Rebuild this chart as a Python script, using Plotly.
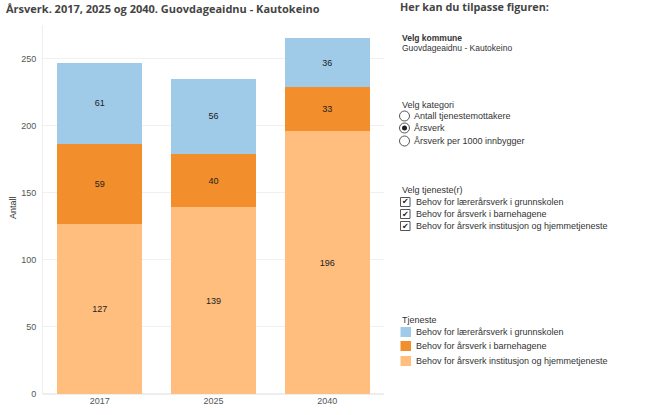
import plotly.graph_objects as go

years = ["2017", "2025", "2040"]
series_names = [
    "Behov for årsverk institusjon og hjemmetjeneste",
    "Behov for årsverk i barnehagene",
    "Behov for lærerårsverk i grunnskolen",
]
series_values = [
    [127, 139, 196],
    [59, 40, 33],
    [61, 56, 36],
]
series_colors = ["#FFBE7D", "#F28E2B", "#A0CBE8"]
y_ticks = [0, 50, 100, 150, 200, 250]

W, H = 657, 415
L, R, T, B = 43, 384, 25, 394

def px(x):
    return (x - L) / (R - L)

def py(y):
    return (B - y) / (B - T)

fig = go.Figure()
for name, vals, col in zip(series_names, series_values, series_colors):
    fig.add_trace(go.Bar(
        x=years, y=vals, name=name, marker_color=col, marker_line_width=0,
        text=[str(v) for v in vals], textposition="inside", insidetextanchor="middle",
        textfont=dict(family="Liberation Sans", size=9, color="#222222"),
        showlegend=False, hoverinfo="x+y+name",
    ))

TEXT_FONT = "Liberation Sans"
ann = []
shapes = []

def text(x, y, s, size=9, color="#333333", bold=False, family=TEXT_FONT):
    ann.append(dict(
        x=px(x), y=py(y), xref="paper", yref="paper", text=(f"<b>{s}</b>" if bold else s),
        showarrow=False, xanchor="left", yanchor="middle",
        font=dict(family=family, size=size, color=color),
    ))

# Title
text(4, 9, "Årsverk. 2017, 2025 og 2040. Guovdageaidnu - Kautokeino", size=11, color="#444444", bold=True, family="Open Sans")
# Right panel
text(398, 7, "Her kan du tilpasse figuren:", size=10.8, color="#444444", bold=True, family="Open Sans")
text(400, 38, "Velg kommune", size=8.5, color="#333333", bold=True)
text(400, 48, "Guovdageaidnu - Kautokeino", size=8.5, color="#333333")

text(400, 105, "Velg kategori", size=9)
radio_opts = ["Antall tjenestemottakere", "Årsverk", "Årsverk per 1000 innbygger"]
radio_y = [116, 128, 141]
for i, (opt, yy) in enumerate(zip(radio_opts, radio_y)):
    shapes.append(dict(type="circle", xref="paper", yref="paper",
                       x0=px(399.5), x1=px(409.5), y0=py(yy + 5), y1=py(yy - 5),
                       line=dict(color="#555555", width=1), fillcolor="white"))
    if opt == "Årsverk":
        shapes.append(dict(type="circle", xref="paper", yref="paper",
                           x0=px(402), x1=px(407), y0=py(yy + 2.5), y1=py(yy - 2.5),
                           line=dict(width=0), fillcolor="#222222"))
    text(412, yy, opt, size=9)

text(400, 190, "Velg tjeneste(r)", size=9)
check_opts = ["Behov for lærerårsverk i grunnskolen", "Behov for årsverk i barnehagene",
              "Behov for årsverk institusjon og hjemmetjeneste"]
check_y = [202, 214, 226]
for opt, yy in zip(check_opts, check_y):
    shapes.append(dict(type="rect", xref="paper", yref="paper",
                       x0=px(400.5), x1=px(410), y0=py(yy + 4.5), y1=py(yy - 4.5),
                       line=dict(color="#555555", width=1), fillcolor="white"))
    ann.append(dict(x=px(405.3), y=py(yy), xref="paper", yref="paper", text="✔",
                    showarrow=False, xanchor="center", yanchor="middle",
                    font=dict(family="DejaVu Sans", size=8, color="#222222")))
    text(414, yy, opt, size=9)

# Legend (drawn)
text(400, 320, "Tjeneste", size=9)
leg_y = [332, 346, 361]
for name, col, yy in zip(series_names[::-1], series_colors[::-1], leg_y):
    shapes.append(dict(type="rect", xref="paper", yref="paper",
                       x0=px(400.5), x1=px(411), y0=py(yy + 5), y1=py(yy - 5),
                       line=dict(width=0), fillcolor=col))
    text(414, yy, name, size=9)

# y-axis title
ann.append(dict(x=px(13), y=py(208), xref="paper", yref="paper", text="Antall",
                showarrow=False, textangle=-90, xanchor="center", yanchor="middle",
                font=dict(family=TEXT_FONT, size=9, color="#333333")))

fig.update_layout(
    width=W, height=H,
    margin=dict(l=L, r=W - R, t=T, b=H - B, pad=0, autoexpand=False),
    barmode="stack", bargap=0.25,
    plot_bgcolor="white", paper_bgcolor="white",
    annotations=ann, shapes=shapes,
    showlegend=False,
    uniformtext=dict(minsize=9, mode="show"),
)
fig.update_xaxes(
    type="category", showgrid=False, zeroline=False, showline=False, automargin=False,
    tickfont=dict(family=TEXT_FONT, size=9, color="#555555"), ticks="", ticklen=0,
)
fig.update_yaxes(
    range=[0, 275], tickvals=y_ticks, showgrid=True, gridcolor="#F0F0F0", gridwidth=1,
    automargin=False,
    zeroline=True, zerolinecolor="#EEEEEE", showline=True, linecolor="#EEEEEE", linewidth=1,
    tickfont=dict(family=TEXT_FONT, size=9, color="#555555"), ticks="", ticklabelstandoff=4,
)
fig.write_html(
    "out.html",
    config={"displayModeBar": False},
    post_script="document.body.style.margin='0';document.body.style.overflow='hidden';",
)
